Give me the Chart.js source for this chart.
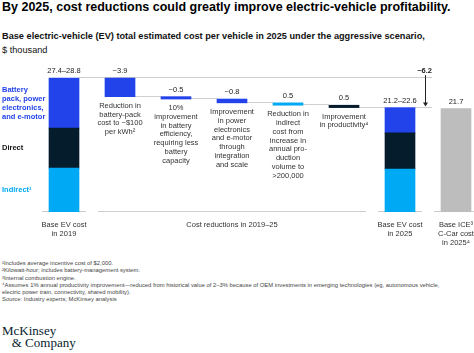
<!DOCTYPE html>
<html>
<head>
<meta charset="utf-8">
<script src="https://cdn.jsdelivr.net/npm/chart.js@4"></script>
<style>
html, body { margin: 0; padding: 0; background: #fff; overflow: hidden; width: 474px; height: 353px; }
body { position: relative; font-family: "Liberation Sans", Arial, sans-serif; color: #000; }
#title { position: absolute; left: 2px; top: 0px; font-size: 12.5px; font-weight: bold; white-space: nowrap; }
#sub { position: absolute; left: 2px; top: 29px; font-size: 9.2px; line-height: 14px; white-space: nowrap; color: #111; }
#chartBox { position: absolute; left: 0; top: 60px; }
#notes { position: absolute; left: 2px; top: 260px; font-size: 5.85px; line-height: 7.3px; color: #444; white-space: nowrap; }
#logo { position: absolute; left: 2px; top: 325px; font-family: "Liberation Serif", "DejaVu Serif", serif; font-size: 13px; line-height: 12px; color: #051c2c; }
</style>
</head>
<body>
<div id="title">By 2025, cost reductions could greatly improve electric-vehicle profitability.</div>
<div id="sub"><b>Base electric-vehicle (EV) total estimated cost per vehicle in 2025 under the aggressive scenario,</b><br>$ thousand</div>
<div id="chartBox"><canvas id="chart" width="484" height="190"></canvas></div>
<div id="notes">
¹Includes average incentive cost of $2,000.<br>
²Kilowatt-hour; includes battery-management system.<br>
³Internal combustion engine.<br>
⁴Assumes 1% annual productivity improvement—reduced from historical value of 2–3% because of OEM investments in emerging technologies (eg, autonomous vehicle,<br>
electric power train, connectivity, shared mobility).<br>
Source: Industry experts; McKinsey analysis
</div>
<div id="logo">McKinsey<br>&nbsp;&nbsp;&nbsp;&amp; Company</div>
<script>
// categories along the x axis
const categories = ['Base EV 2019', 'Battery pack', 'Battery efficiency', 'Power electronics', 'Indirect cost', 'Productivity', 'Base EV 2025', 'Base ICE 2025'];

// stacked segments, bottom to top: indirect, direct, battery pack/power electronics/e-motor
const baseEv2019 = [9.2, 8.4, 10.5];
const baseEv2025 = [9.0, 7.6, 5.3];
const iceCost2025 = 21.7;

// cost reductions 2019-25
const reductions = [3.9, 0.5, 0.8, 0.5, 0.5];
const reductionLabels = ['~3.9', '~0.5', '~0.8', '0.5', '0.5'];
const reductionNotes = [
  ['Reduction in', 'battery-pack', 'cost to ~$100', 'per kWh²'],
  ['10%', 'improvement', 'in battery', 'efficiency,', 'requiring less', 'battery', 'capacity'],
  ['Improvement', 'in power', 'electronics', 'and e-motor', 'through', 'integration', 'and scale'],
  ['Reduction in', 'indirect', 'cost from', 'increase in', 'annual pro-', 'duction', 'volume to', '>200,000'],
  ['Improvement', 'in productivity⁴']
];
const totalLabels = ['27.4–28.8', '21.2–22.6', '21.7'];
const totalReductionLabel = '~6.2';

const segmentNames = [['Indirect¹'], ['Direct'], ['Battery', 'pack, power', 'electronics,', 'and e-motor']];
const groupLabels = [
  { from: 0, to: 0, lines: ['Base EV cost', 'in 2019'] },
  { from: 1, to: 5, lines: ['Cost reductions in 2019–25'] },
  { from: 6, to: 6, lines: ['Base EV cost', 'in 2025'] },
  { from: 7, to: 7, lines: ['Base ICE³', 'C-Car cost', 'in 2025⁴'] }
];

// colours
const segmentColors = ['#00a9f4', '#051c2c', '#2243ea'];
const reductionColors = ['#2243ea', '#2243ea', '#2243ea', '#00a9f4', '#051c2c'];
const iceColor = '#bdbdbd';
const lineColor = '#cfcfcf';
const textColor = '#222';
const FONT = '"Liberation Sans", Arial, sans-serif';

// build floating ranges
const sum = a => a.reduce((s, v) => s + v, 0);
const total2019 = sum(baseEv2019);
const total2025 = sum(baseEv2025);
const levels = [total2019];
reductions.forEach((r, i) => levels.push(levels[i] - r));

function segRange(segs, k) {
  const lo = sum(segs.slice(0, k));
  return [lo, lo + segs[k]];
}

const datasets = [];
for (let k = 0; k < 3; k++) {
  const d = categories.map(() => null);
  d[0] = segRange(baseEv2019, k);
  d[6] = segRange(baseEv2025, k);
  datasets.push({ data: d, backgroundColor: segmentColors[k] });
}
const redData = categories.map(() => null);
reductions.forEach((r, i) => { redData[i + 1] = [levels[i + 1], levels[i]]; });
datasets.push({ data: redData, backgroundColor: categories.map((c, i) => reductionColors[i - 1] || '#000') });
const iceData = categories.map(() => null);
iceData[7] = [0, iceCost2025];
datasets.push({ data: iceData, backgroundColor: iceColor });

const HALF = 15;

function text(ctx, str, x, y, opts) {
  ctx.save();
  ctx.font = (opts.bold ? 'bold ' : '') + opts.size + 'px ' + FONT;
  ctx.fillStyle = opts.color || textColor;
  ctx.textAlign = opts.align || 'center';
  ctx.textBaseline = 'middle';
  ctx.fillText(str, x, y);
  ctx.restore();
}

function hline(ctx, x1, x2, yy, color) {
  ctx.beginPath();
  ctx.strokeStyle = color;
  ctx.lineWidth = 1;
  ctx.moveTo(x1, Math.round(yy) + 0.5);
  ctx.lineTo(x2, Math.round(yy) + 0.5);
  ctx.stroke();
}

const overlay = {
  id: 'overlay',
  beforeDatasetsDraw(chart) {
    const ctx = chart.ctx, xs = chart.scales.x, ys = chart.scales.y;
    const cx = i => xs.getPixelForValue(i);
    ctx.save();
    // top connector across to the arrow
    hline(ctx, cx(0) + HALF, cx(6) + 32, ys.getPixelForValue(levels[0]) - 1, lineColor);
    for (let k = 1; k <= reductions.length; k++) {
      hline(ctx, cx(k) + HALF, cx(k + 1) - HALF, ys.getPixelForValue(levels[k]) - 1, lineColor);
    }
    hline(ctx, cx(6) + HALF, cx(6) + 32, ys.getPixelForValue(total2025) - 1, lineColor);
    // baseline segments
    const y0 = ys.getPixelForValue(0);
    groupLabels.forEach(g => hline(ctx, cx(g.from) - 22, cx(g.to) + 22, y0 - 1, lineColor));
    ctx.restore();
  },
  afterDatasetsDraw(chart) {
    const ctx = chart.ctx, xs = chart.scales.x, ys = chart.scales.y;
    const cx = i => xs.getPixelForValue(i);
    const py = v => ys.getPixelForValue(v);

    // totals
    text(ctx, totalLabels[0], cx(0), py(total2019) - 7, { size: 7.5 });
    text(ctx, totalLabels[1], cx(6), py(total2025) - 7, { size: 7.5 });
    text(ctx, totalLabels[2], cx(7), py(iceCost2025) - 7, { size: 7.5 });

    // reductions
    reductions.forEach((r, i) => {
      const x = cx(i + 1);
      text(ctx, reductionLabels[i], x, py(levels[i]) - 7, { size: 7.5 });
      reductionNotes[i].forEach((ln, j) => {
        text(ctx, ln, x, py(levels[i + 1]) + 9 + j * 8.8, { size: 7.5, color: '#333' });
      });
    });

    // total reduction arrow
    const ax = cx(6) + 25;
    const yTop = py(levels[0]);
    const yBot = py(total2025);
    ctx.save();
    ctx.strokeStyle = '#222';
    ctx.fillStyle = '#222';
    ctx.lineWidth = 1;
    ctx.beginPath();
    ctx.moveTo(ax + 0.5, yTop - 3);
    ctx.lineTo(ax + 0.5, yBot - 4);
    ctx.stroke();
    ctx.beginPath();
    ctx.moveTo(ax - 2, yBot - 5);
    ctx.lineTo(ax + 3, yBot - 5);
    ctx.lineTo(ax + 0.5, yBot - 1);
    ctx.closePath();
    ctx.fill();
    ctx.restore();
    text(ctx, totalReductionLabel, cx(6) + 32, yTop - 7, { size: 7.5, bold: true, align: 'right' });

    // segment names on the left
    for (let k = 0; k < 3; k++) {
      const r = segRange(baseEv2019, k);
      const mid = (py(r[0]) + py(r[1])) / 2;
      const lines = segmentNames[k];
      lines.forEach((ln, j) => {
        text(ctx, ln, 2, mid + (j - (lines.length - 1) / 2) * 9, { size: 7.5, bold: true, align: 'left', color: segmentColors[k] === '#051c2c' ? '#111' : segmentColors[k] });
      });
    }

    // group labels under the axis
    const y0 = py(0);
    groupLabels.forEach(g => {
      const x = (cx(g.from) + cx(g.to)) / 2;
      g.lines.forEach((ln, j) => text(ctx, ln, x, y0 + 13 + j * 9, { size: 7.5, color: '#333' }));
    });
  }
};

new Chart(document.getElementById('chart'), {
  type: 'bar',
  data: { labels: categories, datasets: datasets },
  options: {
    responsive: false,
    animation: false,
    datasets: { bar: { grouped: false, barThickness: 30, borderWidth: 0 } },
    layout: { padding: { left: 36, right: 0, top: 9, bottom: 38 } },
    plugins: { legend: { display: false }, tooltip: { enabled: false } },
    scales: {
      x: { display: false },
      y: { display: false, min: 0, max: 30 }
    }
  },
  plugins: [overlay]
});
</script>
</body>
</html>
